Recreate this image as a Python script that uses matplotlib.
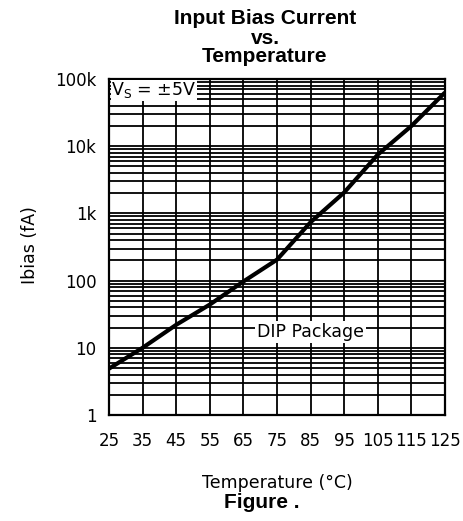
import matplotlib
matplotlib.use("Agg")
import matplotlib.pyplot as plt
import numpy as np
from matplotlib.ticker import LogLocator, NullFormatter

temps = [25, 35, 45, 55, 65, 75, 85, 95, 105, 115, 125]
ibias = [4.9, 10, 22, 44, 97, 205, 740, 2050, 7500, 20000, 63000]
xticks = [25, 35, 45, 55, 65, 75, 85, 95, 105, 115, 125]
yticks = [1, 10, 100, 1000, 10000, 100000]
ylabels = ["1", "10", "100", "1k", "10k", "100k"]

fig = plt.figure(figsize=(4.64, 5.21), dpi=100)
ax = fig.add_axes([109/464, 1-415/521, (445-109)/464, (415-79)/521])
ax.set_yscale("log")
ax.set_xlim(25, 125)
ax.set_ylim(1, 100000)

ax.plot(temps, ibias, color="black", lw=3, solid_capstyle="butt", zorder=3)

ax.set_xticks(xticks)
ax.set_xticklabels([str(t) for t in xticks])
ax.set_yticks(yticks)
ax.set_yticklabels(ylabels)
ax.yaxis.set_minor_locator(LogLocator(base=10, subs=np.arange(2, 10)))
ax.yaxis.set_minor_formatter(NullFormatter())
ax.tick_params(which="both", length=0, labelsize=12)
ax.tick_params(axis="x", pad=12)
ax.tick_params(axis="y", pad=9)
ax.grid(True, which="major", color="black", lw=1.3)
ax.grid(True, which="minor", axis="y", color="black", lw=1.3)
for s in ax.spines.values():
    s.set_linewidth(1.6)

ax.text(25.6, 100000*0.95, "V$_\\mathregular{S}$ = ±5V", fontsize=12.5, va="top", ha="left",
        bbox=dict(facecolor="white", edgecolor="none", pad=0.3), zorder=4)
ax.text(85, 17, "DIP Package", fontsize=12.5, va="center", ha="center",
        bbox=dict(facecolor="white", edgecolor="none", pad=1.5), zorder=4)

fig.text(30/464, 1-245/521, "Ibias (fA)", rotation=90, ha="center", va="center", fontsize=12.5)
fig.text(277/464, 1-483/521, "Temperature (°C)", ha="center", va="center", fontsize=12.5)
tkw = dict(ha="center", va="center", fontsize=15, fontweight="bold", family="Liberation Sans")
fig.text(265/464, 1-19/521, "Input Bias Current", **tkw)
fig.text(265/464, 1-38/521, "vs.", **tkw)
fig.text(265/464, 1-57/521, "Temperature", **tkw)
fig.text(262/464, 1-503/521, "Figure .", **tkw)

fig.savefig("out.png", dpi=100)
